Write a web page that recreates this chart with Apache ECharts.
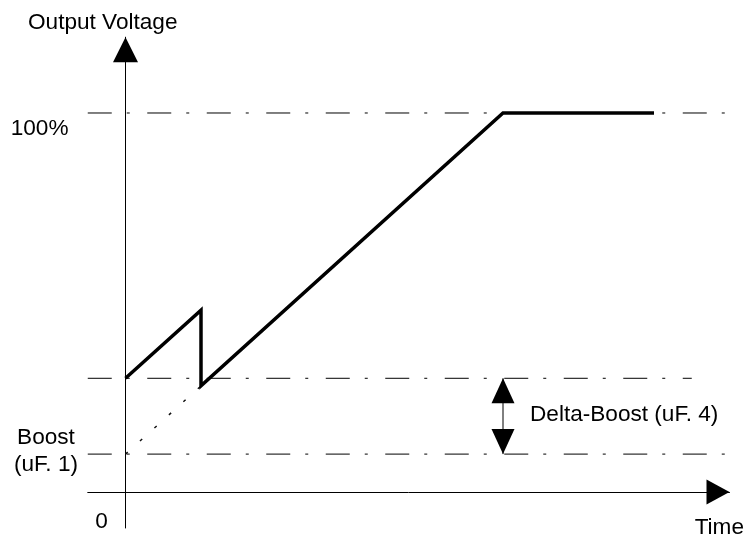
<!DOCTYPE html>
<html>
<head>
<meta charset="utf-8">
<script src="https://cdn.jsdelivr.net/npm/echarts@6/dist/echarts.min.js"></script>
<style>
  html, body { margin: 0; padding: 0; background: #fff; }
  #chart { width: 745px; height: 540px; }
</style>
</head>
<body>
<div id="chart"></div>
<script>
// Output voltage after boost: time in arbitrary units, voltage in % of nominal
const rampTime = [0, 1, 1, 5, 7];
const rampVoltage = [30, 48, 28, 100, 100];

// Ramp extrapolated back to the boost level
const boostRampTime = [0, 1];
const boostRampVoltage = [10, 28];

// Reference levels: 100 %, boost + delta-boost, boost
const levelValues = [100, 30, 10];
const levelStart = -0.5;
const levelEnd = [7.97, 7.5, 7.97];

// Delta-boost span, marked at t = 5
const deltaTime = 5;
const deltaRange = [30, 10];

// Texts
const axisTitles = ['Output Voltage', 'Time'];
const levelLabels = ['100%', 'Boost\n(uF. 1)', '0'];
const deltaLabel = 'Delta-Boost (uF. 4)';

const FONT = '22.6px "Liberation Sans", Arial, sans-serif';
const INK = '#000';
const dashDot = [24, 15, 3, 17.5];

const chart = echarts.init(document.getElementById('chart'), null, { renderer: 'canvas' });

const levelSeries = levelValues.map((v, i) => ({
  type: 'line',
  silent: true,
  symbol: 'none',
  data: [[levelStart, v], [levelEnd[i], v]],
  lineStyle: { color: INK, width: 1, type: dashDot },
  z: 1
}));

const textStyle = (extra) => Object.assign({ font: FONT, fill: INK }, extra);

chart.setOption({
  animation: false,
  backgroundColor: '#fff',
  grid: { left: 87.75, right: 15.5, top: 37.2, bottom: 12, containLabel: false },
  xAxis: {
    type: 'value',
    min: -0.5,
    max: 8,
    axisLine: {
      onZero: true,
      lineStyle: { color: INK, width: 1 },
      symbol: ['none', 'triangle'],
      symbolSize: [25, 23],
      symbolOffset: [0, -11.5]
    },
    axisTick: { show: false },
    axisLabel: { show: false },
    splitLine: { show: false }
  },
  yAxis: {
    type: 'value',
    min: -9.5,
    max: 120,
    axisLine: {
      onZero: true,
      lineStyle: { color: INK, width: 1 },
      symbol: ['none', 'triangle'],
      symbolSize: [25, 25],
      symbolOffset: [0, -12.5]
    },
    axisTick: { show: false },
    axisLabel: { show: false },
    splitLine: { show: false }
  },
  series: levelSeries.concat([
    {
      type: 'line',
      silent: true,
      symbol: 'none',
      data: boostRampTime.map((t, i) => [t, boostRampVoltage[i]]),
      lineStyle: { color: '#111', width: 1.5, type: [3, 16.5] },
      z: 2
    },
    {
      type: 'line',
      silent: true,
      symbol: 'none',
      data: [[deltaTime, deltaRange[0]], [deltaTime, deltaRange[1]]],
      lineStyle: { color: INK, width: 1 },
      z: 3
    },
    {
      type: 'scatter',
      silent: true,
      symbol: 'triangle',
      symbolSize: [23, 25],
      itemStyle: { color: INK, opacity: 1 },
      data: [
        { value: [deltaTime, deltaRange[0]], symbolRotate: 0, symbolOffset: [0, 12.5] },
        { value: [deltaTime, deltaRange[1]], symbolRotate: 180, symbolOffset: [0, -12.5] }
      ],
      z: 4
    },
    {
      type: 'line',
      silent: true,
      symbol: 'none',
      data: rampTime.map((t, i) => [t, rampVoltage[i]]),
      lineStyle: { color: INK, width: 3.5, join: 'miter', cap: 'butt' },
      z: 5
    }
  ]),
  graphic: [
    { type: 'text', x: 28, y: 22.5, silent: true,
      style: textStyle({ text: axisTitles[0], align: 'left', verticalAlign: 'middle' }) },
    { type: 'text', x: 744, y: 528, silent: true,
      style: textStyle({ text: axisTitles[1], align: 'right', verticalAlign: 'middle' }) },
    { type: 'text', x: 68.5, y: 129, silent: true,
      style: textStyle({ text: levelLabels[0], align: 'right', verticalAlign: 'middle' }) },
    { type: 'text', x: 46, y: 451, silent: true,
      style: textStyle({ text: levelLabels[1], align: 'center', verticalAlign: 'middle', lineHeight: 27 }) },
    { type: 'text', x: 101.5, y: 522, silent: true,
      style: textStyle({ text: levelLabels[2], align: 'center', verticalAlign: 'middle' }) },
    { type: 'text', x: 530, y: 415, silent: true,
      style: textStyle({ text: deltaLabel, align: 'left', verticalAlign: 'middle' }) }
  ]
});
</script>
</body>
</html>
